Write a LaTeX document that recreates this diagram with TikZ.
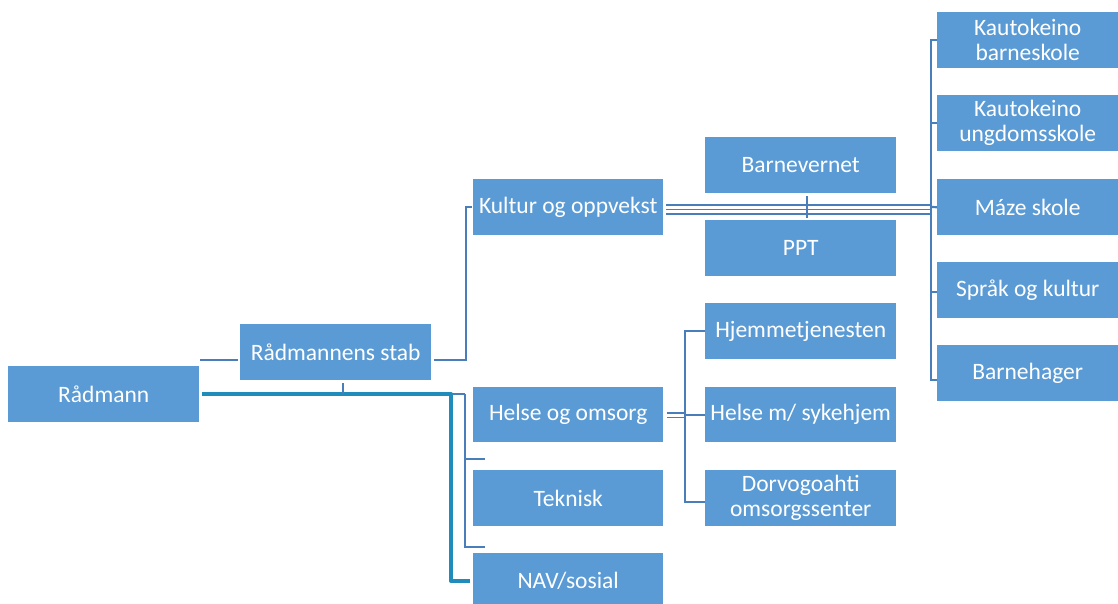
\documentclass[tikz,border=0pt]{standalone}
\usepackage{fontspec}
\setmainfont{Carlito}
\definecolor{boxc}{HTML}{5B9BD5}
\definecolor{lnc}{HTML}{4A7EBB}
\definecolor{thk}{HTML}{1F8CBB}
\begin{document}
\begin{tikzpicture}[x=1pt,y=-1pt,
  box/.style={fill=boxc, draw=none, anchor=north west, text=white, inner sep=0pt,
    font=\fontsize{23.5}{25}\selectfont, align=center, minimum height=56pt},
  wide/.style={minimum width=191pt},
  narrow/.style={minimum width=181pt},
  conn/.style={draw=lnc, line width=2.2pt},
  thin/.style={draw=lnc, line width=1.4pt},
  thick/.style={draw=thk, line width=4pt, line join=round}]
\useasboundingbox (0,0) rectangle (1118,603);
\clip (0,0) rectangle (1118,603);
% nodes
\node[box,wide] (r) at (8,366) {Rådmann};
\node[box,wide] (stab) at (240,324) {Rådmannens stab};
\node[box,minimum width=190pt] (kultur) at (473,179) {Kultur og oppvekst};
\node[box,minimum width=190pt,minimum height=55pt] (helse) at (473,387) {Helse og omsorg};
\node[box,minimum width=190pt] (tek) at (473,470) {Teknisk};
\node[box,minimum width=190pt] (nav) at (473,553) {NAV/sosial};
\node[box,wide] (bv) at (705,137) {Barnevernet};
\node[box,wide] (ppt) at (705,220) {PPT};
\node[box,wide] (hjem) at (705,303) {Hjemmetjenesten};
\node[box,wide,minimum height=55pt] (hsyk) at (705,387) {Helse m/ sykehjem};
\node[box,wide] (dorvo) at (705,470) {Dorvogoahti\\omsorgssenter};
\node[box,narrow] (kb) at (937,12) {Kautokeino\\barneskole};
\node[box,narrow] (ku) at (937,95) {Kautokeino\\ungdomsskole};
\node[box,narrow] (maze) at (937,179) {Máze skole};
\node[box,narrow] (sprak) at (937,262) {Språk og kultur};
\node[box,narrow] (bh) at (937,345) {Barnehager};
% coordinates
\coordinate (a1) at (200,360);
\coordinate (a2) at (238,360);
\coordinate (s1) at (434,360);
\coordinate (s2) at (466,360);
\coordinate (s3) at (466,207);
\coordinate (s4) at (472,207);
\coordinate (t1) at (202,394);
\coordinate (t2) at (451,394);
\coordinate (t3) at (451,581);
\coordinate (t4) at (470,581);
\coordinate (st) at (343,383);
\coordinate (st2) at (343,394);
\coordinate (u1) at (465,394);
\coordinate (u2) at (465,547);
\coordinate (u3) at (485,547);
\coordinate (u4) at (465,459);
\coordinate (u5) at (485,459);
\coordinate (b1) at (931,40);
\coordinate (b2) at (931,380);
% connectors
\draw[conn] (a1) -- (a2);
\draw[conn] (s1) -- (s2) -- (s3) -- (s4);
\draw[thin] (666,205) -- (931,205);
\draw[thin] (666,209.5) -- (931,209.5);
\draw[thin] (666,214) -- (931,214);
\draw[conn] (807,196) -- (807,218);
\draw[conn] (kb.west |- b1) -- (b1) -- (b2) -- (bh.west |- b2);
\draw[conn] (931,123) -- (ku.west |- 0,123);
\draw[conn] (931,207) -- (maze.west);
\draw[conn] (931,292) -- (sprak.west |- 0,292);
\draw[conn] (u1) -- (t2);
\draw[conn] (u1) -- (u2) -- (u3);
\draw[conn] (u4) -- (u5);
\draw[thick] (t1) -- (t2) -- (t3) -- (t4);
\draw[conn] (st) -- (st2);
\draw[thin] (667,413) -- (685,413);
\draw[thin] (667,417.5) -- (685,417.5);
\draw[conn] (hjem.west |- 0,331) -- (685,331) -- (685,502) -- (dorvo.west |- 0,502);
\draw[conn] (685,415) -- (hsyk.west |- 0,415);
\end{tikzpicture}
\end{document}
